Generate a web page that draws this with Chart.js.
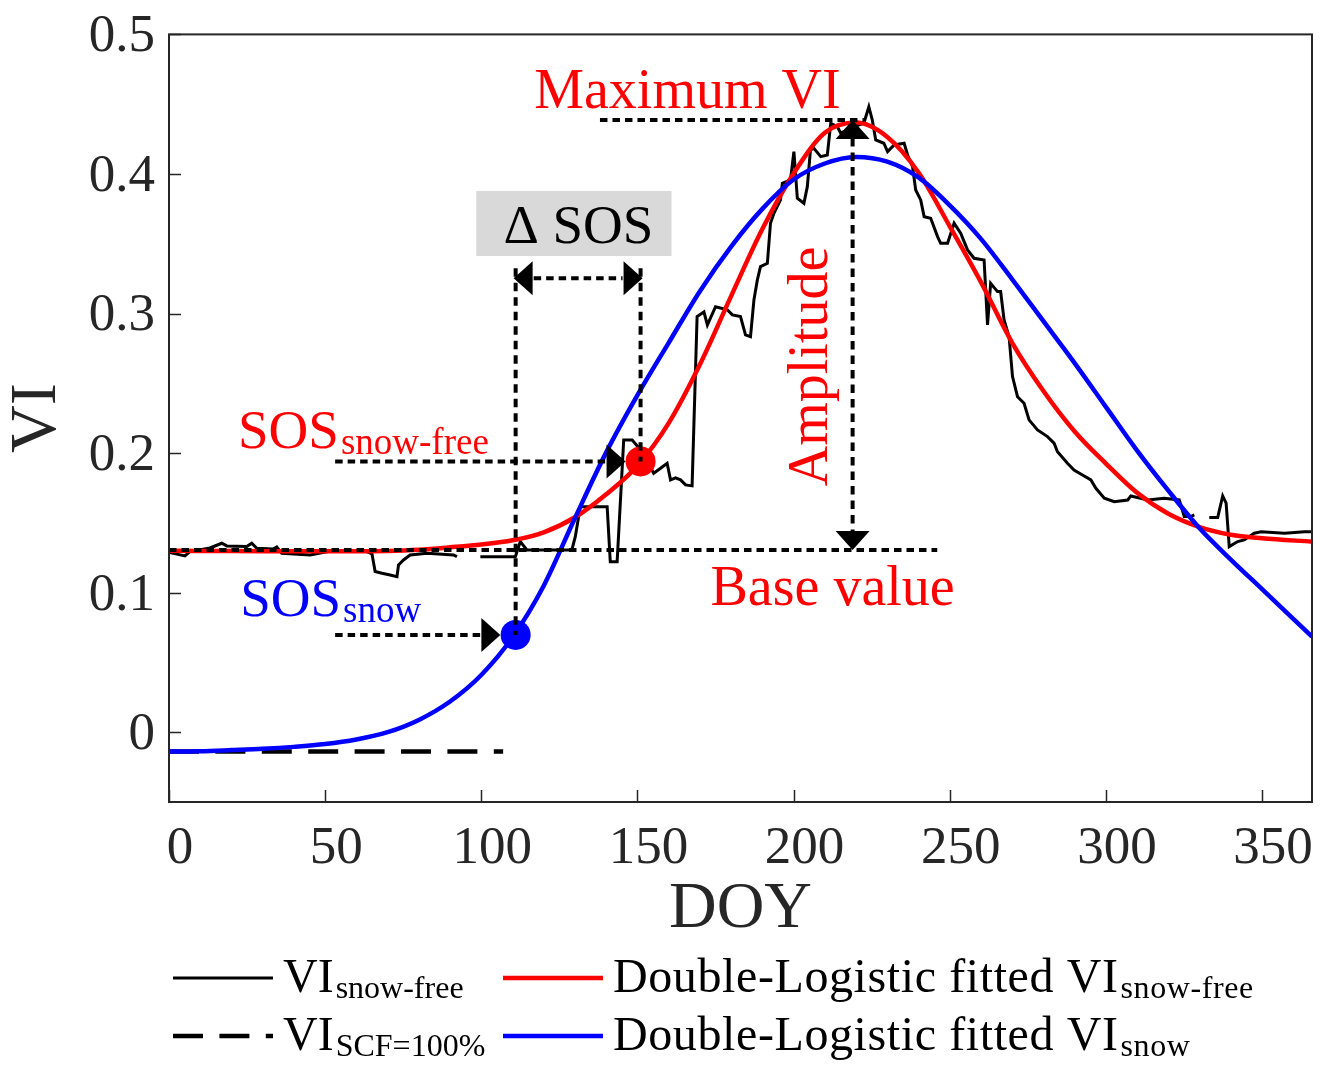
<!DOCTYPE html>
<html lang="en">
<head>
  <meta charset="UTF-8" />
  <title>VI curve with and without snow</title>
  <script src="https://cdn.jsdelivr.net/npm/chart.js"></script>
  <style>
    html, body { margin: 0; padding: 0; background: #fff; }
    .wrap { position: relative; width: 1343px; height: 1080px; }
  </style>
</head>
<body>
  <div class="wrap"><canvas id="viChart"></canvas></div>
  <script>
    const SERIF = "'Liberation Serif', 'Times New Roman', serif";
    const INK = '#262626';

    // observed snow-free VI, null = gap in the record
    const obsDoy = [0.3, 5.1, 6.7, 13.1, 16.9, 18.5, 24.9, 26.5, 28.1, 33.3, 34.5, 36.1, 45.2, 52.6,
      63.4, 65.0, 66.0, 68.2, 70.8, 73.0, 73.5, 75.1, 77.2, 82.6, 91.1, 92.2, 96, 99.7, 110.9,
      112.5, 114.6, 129.0, 130.1, 131.7, 140.3, 141.3, 143.5, 145.6, 148.3, 151.0, 155.2, 157.4,
      159.5, 160.6, 162.2, 163.8, 165.4, 167.5, 169.1, 171.3, 172.4, 175.0, 178.8, 180.4, 183.0,
      184.6, 186.2, 187.3, 188.4, 189.4, 191.6, 192.6, 193.7, 195.8, 196.4, 199.0, 200.1, 201.2,
      203.3, 204.4, 205.4, 206.5, 208.7, 210.8, 211.9, 214.0, 215.1, 219.3, 222.5, 224.1, 225.2,
      226.3, 228.9, 230.1, 232.2, 235.4, 236.5, 238.1, 239.1, 240.7, 241.8, 243.9, 246.1, 247.1,
      249.3, 251.4, 253.5, 255.7, 257.8, 261.0, 262.1, 263.1, 265.3, 266.3, 267.4, 269.0, 270.1,
      271.7, 273.8, 275.4, 278.1, 281.3, 283.4, 284.5, 287.7, 289.8, 292.5, 295.2, 296.8, 299.5,
      302.7, 307.0, 308.0, 313.4, 318.7, 323.5, 325.1, 327.2, 328.3, 330.5, 333.1, 335.8, 337.4,
      338.5, 339.5, 342.2, 344.3, 347.5, 349.7, 357.2, 363.6, 366.0];
    const obsVi = [0.1287, 0.1263, 0.1294, 0.1320, 0.1354, 0.1335, 0.1330, 0.1354, 0.1318, 0.1313, 0.1328, 0.1282, 0.1270, 0.1301,
      0.1294, 0.1277, 0.1151, 0.1139, 0.1127, 0.1115, 0.1199, 0.1234, 0.1270, 0.1282, 0.1270, 0.1258, null, 0.1258, 0.1258,
      0.1366, 0.1306, 0.1306, 0.1401, 0.1616, 0.1616, 0.1222, 0.1222, 0.2094, 0.2094, 0.2023, 0.1856, 0.1891,
      0.1927, 0.1808, 0.1822, 0.1808, 0.1772, 0.1765, 0.2978, 0.3011, 0.2918, 0.3049, 0.3026, 0.2990, 0.2978,
      0.2847, 0.2834, 0.3097, 0.3241, 0.3336, 0.3360, 0.3647, 0.3718, 0.3814, 0.3933, 0.3957, 0.4160, 0.3826,
      0.3790, 0.3909, 0.4172, 0.4184, 0.4124, 0.4136, 0.4363, 0.4339, 0.4292, 0.4339, 0.4363, 0.4482, 0.4387,
      0.4244, 0.4220, 0.4160, 0.4208, 0.4220, 0.4136, 0.4052, 0.3885, 0.3814, 0.3694, 0.3683, 0.3551, 0.3503,
      0.3503, 0.3647, 0.3575, 0.3456, 0.3396, 0.3384, 0.2918, 0.3217, 0.3157, 0.3157, 0.2954, 0.2834, 0.2548,
      0.2404, 0.2357, 0.2238, 0.2166, 0.2118, 0.2071, 0.2010, 0.1927, 0.1879, 0.1843, 0.1808, 0.1748, 0.1677,
      0.1652, 0.1664, 0.1693, 0.1664, 0.1677, 0.1664, 0.1545, 0.1545, 0.1557, null, 0.1538, 0.1538, 0.1693,
      0.1641, 0.1330, 0.1366, 0.1378, 0.1426, 0.1437, 0.1426, 0.1437, 0.1437];

    // VI under full snow cover
    const scfDoy = [0, 107];
    const scfVi = [-0.0139, -0.0139];

    // double-logistic fits
    const fitDoy = [0, 10, 20, 30, 40, 50, 60, 70, 80, 90, 100, 110, 120, 130, 140, 150, 160, 170, 180,
      190, 200, 210, 220, 230, 240, 250, 260, 270, 280, 290, 300, 310, 320, 330, 340, 350, 366];
    const fitFreeVi = [0.1300, 0.1299, 0.1298, 0.1297, 0.1296, 0.1296, 0.1296, 0.1299, 0.1308, 0.1325, 0.1345,
      0.1375, 0.1432, 0.1540, 0.1705, 0.1910, 0.2215, 0.2635, 0.3125, 0.3605, 0.4003, 0.4295, 0.4368,
      0.4265, 0.4010, 0.3625, 0.3225, 0.2790, 0.2445, 0.2155, 0.1925, 0.1715, 0.1565, 0.1470, 0.1415,
      0.1390, 0.1365];
    const fitSnowVi = [-0.0139, -0.0136, -0.0128, -0.0119, -0.0105, -0.0085, -0.0052, 0.0000, 0.0088, 0.0220,
      0.0410, 0.0680, 0.1050, 0.1535, 0.2005, 0.2415, 0.2790, 0.3160, 0.3480, 0.3750, 0.3960, 0.4075,
      0.4122, 0.4088, 0.3975, 0.3775, 0.3535, 0.3245, 0.2945, 0.2645, 0.2331, 0.2018, 0.1731, 0.1461,
      0.1237, 0.1025, 0.0685];

    // phenology markers
    const sosSnowDoy = 111, sosSnowVi = 0.0697;
    const sosFreeDoy = 151, sosFreeVi = 0.194;
    const baseVi = 0.1305, maxVi = 0.4387, peakDoy = 218.9;

    const xTicks = [0, 50, 100, 150, 200, 250, 300, 350];
    const yTicks = [0, 0.1, 0.2, 0.3, 0.4, 0.5];

    const pairs = (xs, ys) => xs.map((v, i) => ({ x: v, y: ys[i] }));

    function dots(ctx, x1, y1, x2, y2) {
      ctx.setLineDash(x1 === x2 ? [8.5, 6] : [7.5, 5]);
      ctx.beginPath();
      ctx.moveTo(x1, y1);
      ctx.lineTo(x2, y2);
      ctx.stroke();
      ctx.setLineDash([]);
    }

    function arrow(ctx, tx, ty, dir) {
      const L = 19, W = 17;
      ctx.beginPath();
      ctx.moveTo(tx, ty);
      if (dir === 'right') { ctx.lineTo(tx - L, ty - W); ctx.lineTo(tx - L, ty + W); }
      if (dir === 'left') { ctx.lineTo(tx + L, ty - W); ctx.lineTo(tx + L, ty + W); }
      if (dir === 'up') { ctx.lineTo(tx - W, ty + L); ctx.lineTo(tx + W, ty + L); }
      if (dir === 'down') { ctx.lineTo(tx - W, ty - L); ctx.lineTo(tx + W, ty - L); }
      ctx.closePath();
      ctx.fill();
    }

    function subText(ctx, x, y, main, sub, size, subSize, shift) {
      ctx.textAlign = 'left';
      ctx.textBaseline = 'alphabetic';
      ctx.font = size + 'px ' + SERIF;
      ctx.fillText(main, x, y);
      const w = ctx.measureText(main).width;
      ctx.font = subSize + 'px ' + SERIF;
      ctx.fillText(sub, x + w + 2, y + shift);
    }

    const annotations = {
      id: 'annotations',
      afterDatasetsDraw(chart) {
        const { ctx, scales: { x, y } } = chart;
        const px = v => x.getPixelForValue(v);
        const py = v => y.getPixelForValue(v);
        ctx.save();
        ctx.fillStyle = '#000';
        ctx.strokeStyle = '#000';
        ctx.lineWidth = 4;

        // base value and maximum
        dots(ctx, px(0), py(baseVi), px(246), py(baseVi));
        dots(ctx, px(138), py(maxVi), px(222.5), py(maxVi));

        // amplitude
        dots(ctx, px(peakDoy), py(maxVi) + 18, px(peakDoy), py(baseVi) - 18);
        arrow(ctx, px(peakDoy), py(maxVi), 'up');
        arrow(ctx, px(peakDoy), py(baseVi), 'down');

        // SOS pointers
        dots(ctx, px(53.2), py(sosFreeVi), px(146.2) - 18, py(sosFreeVi));
        arrow(ctx, px(146.2), py(sosFreeVi), 'right');
        dots(ctx, px(53.2), py(sosSnowVi), px(106.1) - 18, py(sosSnowVi));
        arrow(ctx, px(106.1), py(sosSnowVi), 'right');

        // delta SOS bracket
        const top = py(0.3325), yd = py(0.3253);
        dots(ctx, px(sosSnowDoy), top, px(sosSnowDoy), py(sosSnowVi));
        dots(ctx, px(sosFreeDoy), top, px(sosFreeDoy), py(sosFreeVi));
        dots(ctx, px(sosSnowDoy) + 18, yd, px(sosFreeDoy) - 18, yd);
        arrow(ctx, px(sosSnowDoy) - 2, yd, 'left');
        arrow(ctx, px(sosFreeDoy) + 2, yd, 'right');

        ctx.fillStyle = '#d9d9d9';
        ctx.fillRect(px(98.4), py(0.3878), px(160.9) - px(98.4), py(0.3412) - py(0.3878));
        ctx.fillStyle = '#000';
        ctx.font = '55px ' + SERIF;
        ctx.textAlign = 'center';
        ctx.textBaseline = 'alphabetic';
        ctx.fillText('\u0394 SOS', px(131.1), py(0.3506));

        // labels
        ctx.fillStyle = '#ff0000';
        ctx.font = '56px ' + SERIF;
        ctx.fillText('Maximum VI', px(166), py(0.4473));
        ctx.textAlign = 'left';
        ctx.fillText('Base value', px(173.4), py(0.0912));
        subText(ctx, px(22.1), py(0.2037), 'SOS', 'snow-free', 55, 37, 6.5);
        ctx.fillStyle = '#0000ff';
        subText(ctx, px(22.8), py(0.0833), 'SOS', 'snow', 55, 37, 6.5);

        ctx.fillStyle = '#ff0000';
        ctx.save();
        ctx.translate(px(210.6), py(0.2621));
        ctx.rotate(-Math.PI / 2);
        ctx.font = '56px ' + SERIF;
        ctx.textAlign = 'center';
        ctx.fillText('Amplitude', 0, 0);
        ctx.restore();

        ctx.restore();
      }
    };

    const frameAndLegend = {
      id: 'frameAndLegend',
      afterDraw(chart) {
        const { ctx, chartArea: a, scales: { x, y } } = chart;
        ctx.save();
        ctx.strokeStyle = INK;
        ctx.lineWidth = 1.5;
        ctx.beginPath();
        xTicks.forEach(v => {
          const p = Math.round(x.getPixelForValue(v)) + 0.5;
          ctx.moveTo(p, a.bottom);
          ctx.lineTo(p, a.bottom - 12);
        });
        yTicks.forEach(v => {
          const p = Math.round(y.getPixelForValue(v)) + 0.5;
          ctx.moveTo(a.left, p);
          ctx.lineTo(a.left + 12, p);
        });
        ctx.stroke();
        ctx.lineWidth = 2;
        ctx.strokeRect(a.left, a.top, a.right - a.left, a.bottom - a.top);

        // legend, two columns by two rows
        const items = [
          { col: 0, row: 0, color: '#000', width: 3, dash: [], main: 'VI', sub: 'snow-free' },
          { col: 1, row: 0, color: '#ff0000', width: 4.5, dash: [], main: 'Double-Logistic fitted VI', sub: 'snow-free' },
          { col: 0, row: 1, color: '#000', width: 4.5, dash: [30, 16.4], main: 'VI', sub: 'SCF=100%' },
          { col: 1, row: 1, color: '#0000ff', width: 4.5, dash: [], main: 'Double-Logistic fitted VI', sub: 'snow' }
        ];
        const colX = [173, 503], rowY = [978, 1036];
        items.forEach(it => {
          const lx = colX[it.col], ly = rowY[it.row];
          ctx.strokeStyle = it.color;
          ctx.lineWidth = it.width;
          ctx.setLineDash(it.dash);
          ctx.beginPath();
          ctx.moveTo(lx, ly);
          ctx.lineTo(lx + 100, ly);
          ctx.stroke();
          ctx.setLineDash([]);
          ctx.fillStyle = '#000';
          ctx.letterSpacing = it.main.length > 2 ? '0.6px' : '0px';
          subText(ctx, lx + 110, ly + 13.5, it.main, it.sub, 48, 32, 6.7);
          ctx.letterSpacing = '0px';
        });
        ctx.restore();
      }
    };

    new Chart(document.getElementById('viChart'), {
      type: 'line',
      data: {
        datasets: [
          { label: 'VI snow-free', data: pairs(obsDoy, obsVi), borderColor: '#000', borderWidth: 3,
            pointRadius: 0, tension: 0, spanGaps: false, order: 4 },
          { label: 'VI SCF=100%', data: pairs(scfDoy, scfVi), borderColor: '#000', borderWidth: 4.5,
            borderDash: [30, 16.4], pointRadius: 0, order: 3 },
          { label: 'Double-Logistic fitted VI snow-free', data: pairs(fitDoy, fitFreeVi), borderColor: '#ff0000',
            borderWidth: 4.5, pointRadius: 0, cubicInterpolationMode: 'monotone', order: 2 },
          { label: 'Double-Logistic fitted VI snow', data: pairs(fitDoy, fitSnowVi), borderColor: '#0000ff',
            borderWidth: 4.5, pointRadius: 0, cubicInterpolationMode: 'monotone', order: 1 },
          { label: 'SOS snow-free', data: [{ x: sosFreeDoy, y: sosFreeVi }], showLine: false, pointRadius: 15,
            pointBackgroundColor: '#ff0000', pointBorderWidth: 0, borderColor: '#ff0000', order: 0 },
          { label: 'SOS snow', data: [{ x: sosSnowDoy, y: sosSnowVi }], showLine: false, pointRadius: 15,
            pointBackgroundColor: '#0000ff', pointBorderWidth: 0, borderColor: '#0000ff', order: 0 }
        ]
      },
      options: {
        responsive: true,
        maintainAspectRatio: false,
        animation: false,
        events: [],
        layout: { padding: { left: 0, top: 34.4, right: 31, bottom: 137 } },
        plugins: { legend: { display: false }, tooltip: { enabled: false } },
        scales: {
          x: {
            type: 'linear', min: 0, max: 366,
            afterBuildTicks: s => { s.ticks = xTicks.map(v => ({ value: v })); },
            afterFit: s => { s.height = 141; },
            grid: { display: false, drawTicks: false },
            border: { display: false },
            ticks: { color: INK, font: { family: SERIF, size: 53, lineHeight: 1 }, padding: 21, labelOffset: 11,
              maxRotation: 0, autoSkip: false, callback: v => String(v) },
            title: { display: true, text: 'DOY', color: INK, font: { family: SERIF, size: 66, lineHeight: 1 },
              padding: { top: 0, bottom: 0 } }
          },
          y: {
            type: 'linear', min: -0.05, max: 0.5,
            afterBuildTicks: s => { s.ticks = yTicks.map(v => ({ value: v })); },
            afterFit: s => { s.width = 169; s.paddingTop = 0; s.paddingBottom = 0; },
            grid: { display: false, drawTicks: false },
            border: { display: false },
            ticks: { color: INK, font: { family: SERIF, size: 53, lineHeight: 1 }, padding: 14, labelOffset: 3,
              autoSkip: false, callback: v => String(v) },
            title: { display: true, text: 'VI', color: INK, font: { family: SERIF, size: 66, lineHeight: 1 },
              padding: { top: 5, bottom: 0 } }
          }
        }
      },
      plugins: [annotations, frameAndLegend]
    });
  </script>
</body>
</html>
